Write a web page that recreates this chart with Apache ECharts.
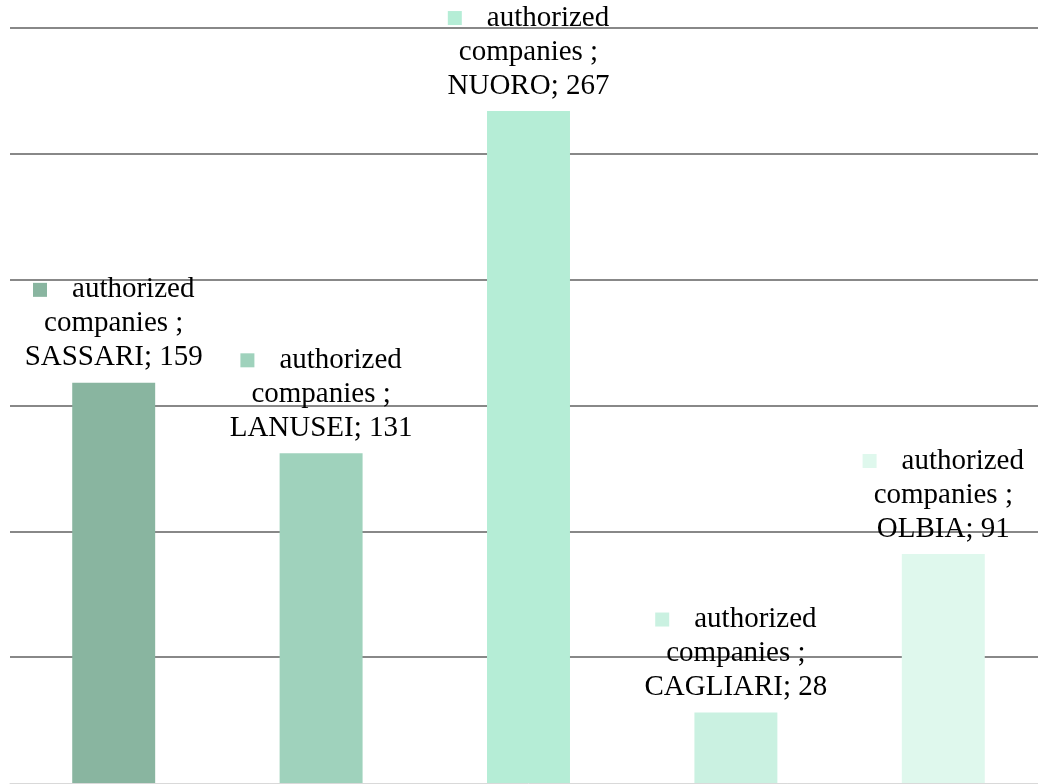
<!DOCTYPE html>
<html>
<head>
<meta charset="utf-8">
<script src="https://cdn.jsdelivr.net/npm/echarts@6/dist/echarts.min.js"></script>
<style>
html,body{margin:0;padding:0;background:#fff;overflow:hidden;width:1038px;height:784px;}
#c{width:1047px;height:784px;}
</style>
</head>
<body>
<div id="c"></div>
<script>
const seriesName = "authorized companies";
const categories = ["SASSARI", "LANUSEI", "NUORO", "CAGLIARI", "OLBIA"];
const values = [159, 131, 267, 28, 91];
const colors = ["#89b5a0", "#9fd2bc", "#b5edd6", "#caf1e1", "#dff8ed"];
const yTicks = [0, 50, 100, 150, 200, 250, 300];

const chart = echarts.init(document.getElementById('c'), null, {renderer: 'canvas'});

const rich = {
  g: {width: 25, height: 14},
  t: {fontFamily: "Liberation Serif", fontSize: 29, color: "#000", lineHeight: 34}
};
colors.forEach((c, i) => {
  rich['m' + i] = {width: 14, height: 14, backgroundColor: c, verticalAlign: 'middle'};
});

chart.setOption({
  animation: false,
  backgroundColor: '#fff',
  grid: {left: 10, top: 28, right: 0, bottom: 1, containLabel: false},
  xAxis: {
    type: 'category',
    data: categories,
    axisLine: {show: true, lineStyle: {color: '#d9d9d9', width: 1}},
    axisTick: {show: false},
    axisLabel: {show: false}
  },
  yAxis: {
    type: 'value',
    min: yTicks[0],
    max: yTicks[yTicks.length - 1],
    interval: yTicks[1] - yTicks[0],
    axisLine: {show: false},
    axisTick: {show: false},
    axisLabel: {show: false},
    splitLine: {show: true, showMinLine: false, lineStyle: {color: '#888888', width: 2}}
  },
  series: [{
    name: seriesName,
    type: 'bar',
    barWidth: '40%',
    data: values.map((v, i) => ({value: v, itemStyle: {color: colors[i]}})),
    label: {
      show: true,
      position: 'top',
      distance: 8,
      align: 'center',
      fontFamily: "Liberation Serif",
      fontSize: 29,
      lineHeight: 34,
      color: '#000',
      formatter: p => `{m${p.dataIndex}|}{g|}{t|authorized}\n{t|companies ;}\n{t|${p.name}; ${p.value}}`,
      rich: rich
    }
  }]
});
</script>
</body>
</html>
